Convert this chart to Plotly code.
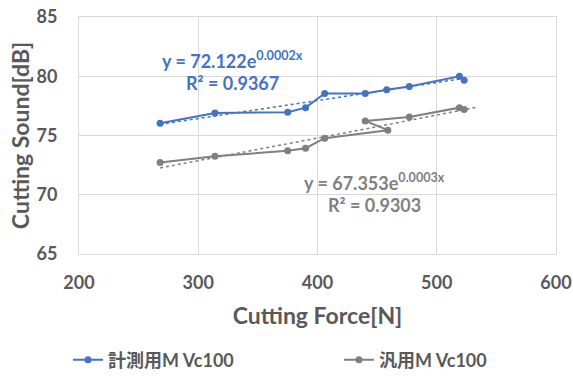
import numpy as np
import plotly.graph_objects as go

# Data
blue_force = [268, 314, 375, 390, 406, 440, 458, 477, 519, 523]
blue_sound = [76.03, 76.9, 76.96, 77.35, 78.55, 78.55, 78.86, 79.14, 80.0, 79.67]
gray_force = [268, 314, 375, 390, 406, 459, 440, 477, 519, 523]
gray_sound = [72.73, 73.24, 73.71, 73.93, 74.77, 75.45, 76.23, 76.56, 77.35, 77.2]
blue_name = "計測用M Vc100"
gray_name = "汎用M Vc100"
blue_eq = "y = 72.122e<sup>0.0002x</sup>"
blue_r2 = "R² = 0.9367"
gray_eq = "y = 67.353e<sup>0.0003x</sup>"
gray_r2 = "R² = 0.9303"
blue_trend_range = [268, 523]
gray_trend_range = [268, 533]
x_ticks = [200, 300, 400, 500, 600]
y_ticks = [65, 70, 75, 80, 85]

BLUE = "#4472C4"
GRAY = "#7F7F7F"
TXT = "#595959"
FONT = "Lato, Noto Sans CJK JP, sans-serif"


def exp_fit(x, y, rng):
    b, ln_a = np.polyfit(np.array(x, float), np.log(np.array(y, float)), 1)
    xs = np.linspace(rng[0], rng[1], 50)
    return xs, np.exp(ln_a) * np.exp(b * xs)


fig = go.Figure()
bx, by = exp_fit(blue_force, blue_sound, blue_trend_range)
gx, gy = exp_fit(gray_force, gray_sound, gray_trend_range)
fig.add_trace(go.Scatter(x=bx, y=by, mode="lines", showlegend=False,
                         line=dict(color=BLUE, width=1.5, dash="dot"), hoverinfo="skip"))
fig.add_trace(go.Scatter(x=gx, y=gy, mode="lines", showlegend=False,
                         line=dict(color=GRAY, width=1.5, dash="dot"), hoverinfo="skip"))
fig.add_trace(go.Scatter(x=blue_force, y=blue_sound, mode="lines+markers", name=blue_name,
                         line=dict(color=BLUE, width=2), marker=dict(color=BLUE, size=7),
                         legend="legend"))
fig.add_trace(go.Scatter(x=gray_force, y=gray_sound, mode="lines+markers", name=gray_name,
                         line=dict(color=GRAY, width=2), marker=dict(color=GRAY, size=7),
                         legend="legend2"))

ann_font = dict(size=18, family=FONT, weight="bold")
fig.add_annotation(x=329, y=81.4, xref="x", yref="y", text=blue_eq,
                   showarrow=False, font=dict(color=BLUE, **ann_font))
fig.add_annotation(x=329, y=79.45, xref="x", yref="y", text=blue_r2,
                   showarrow=False, font=dict(color=BLUE, **ann_font))
fig.add_annotation(x=448, y=71.1, xref="x", yref="y", text=gray_eq,
                   showarrow=False, font=dict(color=GRAY, **ann_font))
fig.add_annotation(x=448, y=69.1, xref="x", yref="y", text=gray_r2,
                   showarrow=False, font=dict(color=GRAY, **ann_font))

leg_font = dict(size=18, color=TXT, weight="bold")
fig.update_layout(
    width=573, height=376,
    margin=dict(l=79, r=17, t=17, b=122, autoexpand=False),
    paper_bgcolor="white", plot_bgcolor="white",
    font=dict(family=FONT, color=TXT),
    xaxis=dict(range=[200, 600], tickvals=x_ticks, showgrid=True, gridcolor="#D9D9D9",
               showline=True, linecolor="#D9D9D9", mirror=True, zeroline=False, automargin=False,
               tickfont=dict(size=18, color=TXT, weight="bold"), ticks="outside", ticklen=12,
               tickcolor="rgba(0,0,0,0)", ticklabeloverflow="allow",
               title=dict(text="Cutting Force[N]", font=dict(size=23, color=TXT, weight="bold"), standoff=16)),
    yaxis=dict(range=[65, 85], tickvals=y_ticks, showgrid=True, gridcolor="#D9D9D9",
               showline=True, linecolor="#D9D9D9", mirror=True, zeroline=False, automargin=False,
               tickfont=dict(size=18, color=TXT, weight="bold"), ticks="outside", ticklen=17,
               tickcolor="rgba(0,0,0,0)", ticklabeloverflow="allow",
               title=dict(text="Cutting Sound[dB]", font=dict(size=23, color=TXT, weight="bold"), standoff=0)),
    legend=dict(orientation="h", x=-0.023, y=-0.447, xanchor="left", yanchor="middle",
                font=leg_font, itemwidth=30, bgcolor="rgba(0,0,0,0)"),
    legend2=dict(orientation="h", x=0.545, y=-0.447, xanchor="left", yanchor="middle",
                 font=leg_font, itemwidth=30, bgcolor="rgba(0,0,0,0)"),
)

fig.write_html(
    "out.html",
    config={"displayModeBar": False},
    post_script="document.body.style.margin='0';document.body.style.overflow='hidden';",
)
